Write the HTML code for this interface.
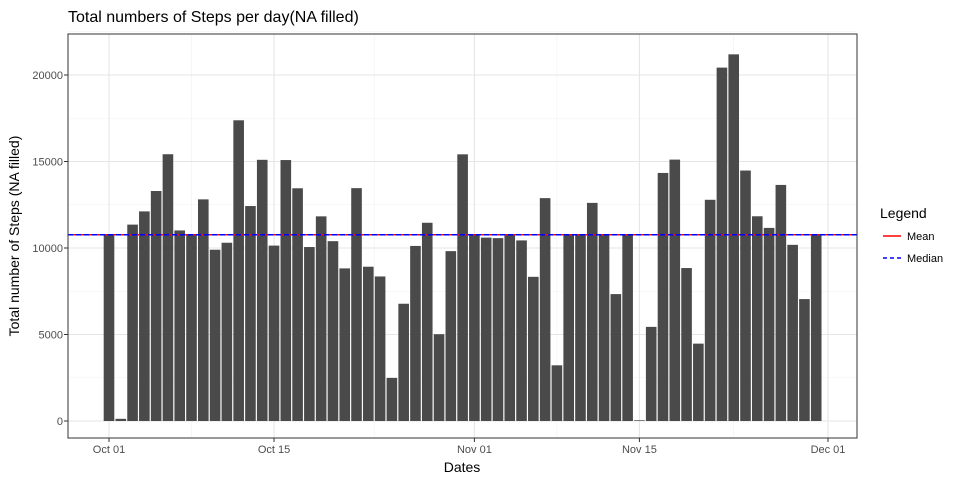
<!DOCTYPE html>
<html><head><meta charset="utf-8"><style>
body{margin:0;background:#fff;font-family:"Liberation Sans",Arial,sans-serif}
</style></head><body>
<svg id="chart" width="960" height="480" xmlns="http://www.w3.org/2000/svg" font-family="Liberation Sans, Arial, sans-serif">
<text x="68" y="22" font-size="16" fill="#000">Total numbers of Steps per day(NA filled)</text>
<g id="grid"></g>
<g id="bars"></g>
<g id="lines"></g>
<rect x="68" y="34" width="789" height="404" fill="none" stroke="#333" stroke-width="1"/>
<g id="axes"></g>
<text x="462" y="472" font-size="14" text-anchor="middle">Dates</text>
<text transform="translate(19,236) rotate(-90)" font-size="14" text-anchor="middle">Total number of Steps (NA filled)</text>
<g>
<text x="880" y="218" font-size="14">Legend</text>
<line x1="883" y1="236" x2="901" y2="236" stroke="#f00" stroke-width="1.5"/>
<text x="907" y="240" font-size="11">Mean</text>
<line x1="883" y1="258" x2="901" y2="258" stroke="#00f" stroke-width="1.5" stroke-dasharray="4,3"/>
<text x="907" y="262" font-size="11">Median</text>
</g>
</svg>
<script>
const M=10766.19;
const steps=[M,126,11352,12116,13294,15420,11015,M,12811,9900,10304,17382,12426,15098,10139,15084,13452,10056,11829,10395,8821,13460,8918,8355,2492,6778,10119,11458,5018,9819,15414,
M,10600,10571,M,10439,8334,12883,3219,M,M,12608,10765,7336,M,41,5441,14339,15110,8841,4472,12787,20427,21194,14478,11834,11162,13646,10183,7047,M];
const yTicks=[0,5000,10000,15000,20000];
const xTickDays=[0,14,31,45,61];
const xTickLabels=["Oct 01","Oct 15","Nov 01","Nov 15","Dec 01"];
const meanVal=10766.19, medianVal=10766.19;

const NS="http://www.w3.org/2000/svg";
const x=d=>109+d*11.787;
const y=v=>421-v*0.0173;
function mk(tag,attrs,parent){const e=document.createElementNS(NS,tag);for(const k in attrs)e.setAttribute(k,attrs[k]);document.getElementById(parent).appendChild(e);return e;}
// minor grid
for(let i=0;i<yTicks.length;i++){const v=yTicks[i]+2500;const g=mk('line',{x1:68,x2:857,y1:y(v),y2:y(v),stroke:'#f0f0f0','stroke-width':0.6},'grid');

}
for(let i=0;i<xTickDays.length-1;i++){const d=(xTickDays[i]+xTickDays[i+1])/2;const g=mk('line',{x1:x(d),x2:x(d),y1:34,y2:438,stroke:'#f0f0f0','stroke-width':0.6},'grid');

}
yTicks.forEach(v=>{const g=mk('line',{x1:68,x2:857,y1:y(v),y2:y(v),stroke:'#e5e5e5','stroke-width':1.1},'grid');


const t=mk('text',{x:63,y:y(v)+4,'font-size':11,'text-anchor':'end',fill:'#4d4d4d'},'axes');t.textContent=v;


const tk=mk('line',{x1:64,x2:68,y1:y(v),y2:y(v),stroke:'#333'},'axes');

});
xTickDays.forEach((d,i)=>{const g=mk('line',{x1:x(d),x2:x(d),y1:34,y2:438,stroke:'#e5e5e5','stroke-width':1.1},'grid');


const t=mk('text',{x:x(d),y:453,'font-size':11,'text-anchor':'middle',fill:'#4d4d4d'},'axes');t.textContent=xTickLabels[i];


const tk=mk('line',{x1:x(d),x2:x(d),y1:438,y2:442,stroke:'#333'},'axes');

});
steps.forEach((v,i)=>{const w=11.787*0.9;const b=mk('rect',{x:x(i)-w/2,y:y(v),width:w,height:y(0)-y(v),fill:'#4a4a4a'},'bars');

});
const ml=mk('line',{x1:68,x2:857,y1:y(meanVal),y2:y(meanVal),stroke:'#f00','stroke-width':1.5},'lines');


const dl=mk('line',{x1:68,x2:857,y1:y(medianVal),y2:y(medianVal),stroke:'#00f','stroke-width':1.5,'stroke-dasharray':'5,3'},'lines');


</script>
</body></html>
